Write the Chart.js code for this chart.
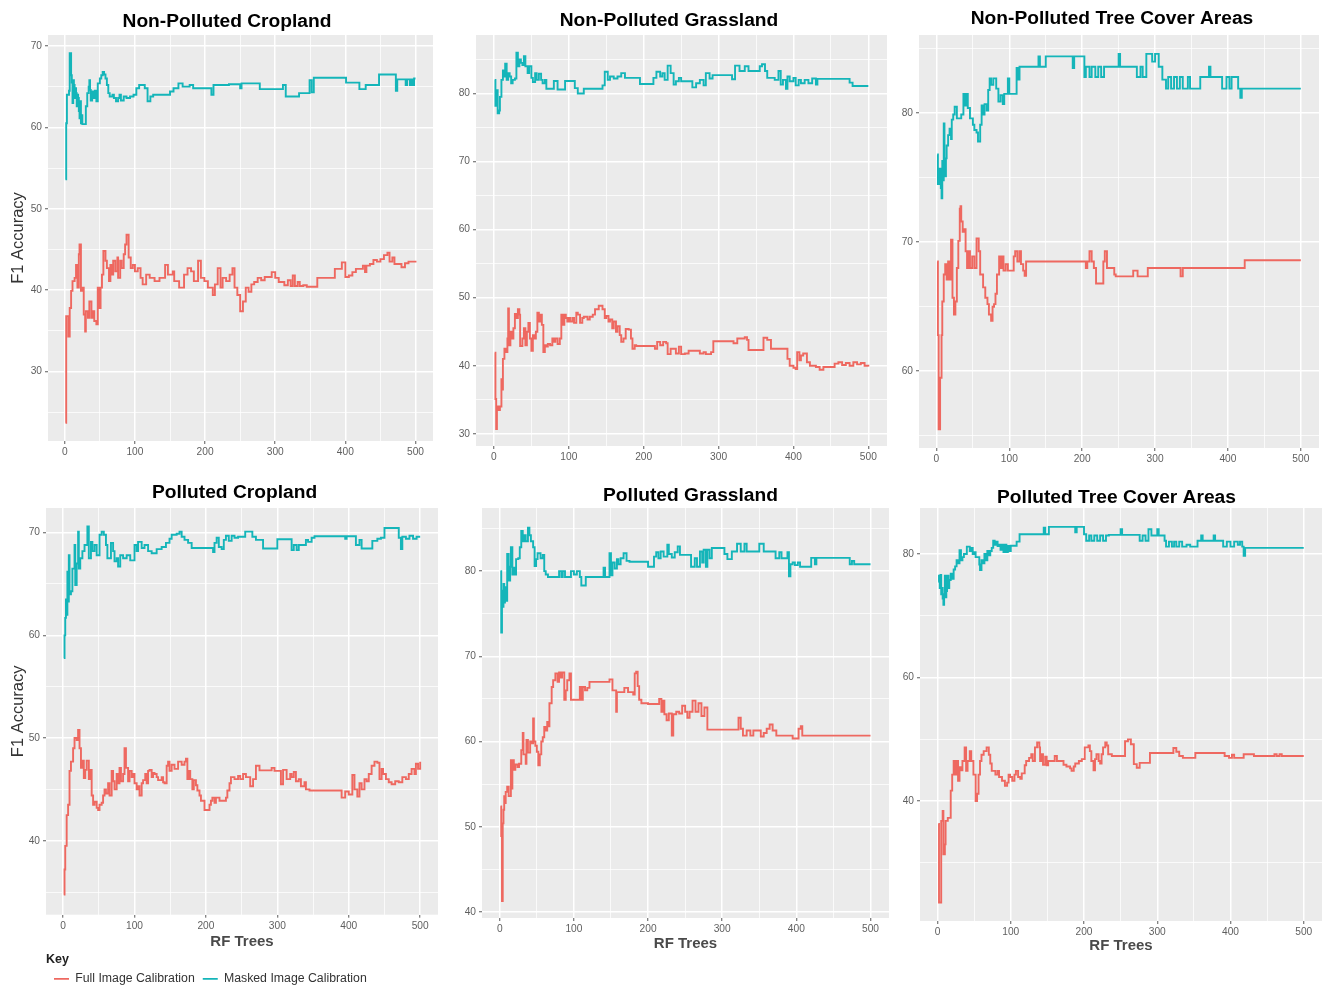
<!DOCTYPE html>
<html>
<head>
<meta charset="utf-8">
<script src="https://cdn.jsdelivr.net/npm/chart.js@4.4.1/dist/chart.umd.min.js"></script>
<style>
  html, body { margin: 0; padding: 0; background: #ffffff; width: 1322px; height: 988px; overflow: hidden; }
  canvas { position: absolute; }
</style>
</head>
<body>
<canvas id="npCrop"></canvas>
<canvas id="npGrass"></canvas>
<canvas id="npTree"></canvas>
<canvas id="pCrop"></canvas>
<canvas id="pGrass"></canvas>
<canvas id="pTree"></canvas>
<script>
// ---- F1 accuracy versus number of RF trees: [trees, F1 accuracy] ----

// Non-Polluted Cropland
const ncFull = [[1,23.7],[2,36.8],[5,34.3],[7,37.8],[9,39.9],[11,41.1],[14,41.5],[16,43.1],[18,40.3],[20,44.4],[21,45.6],[23,39.9],[25,40.3],[27,37.0],[29,34.9],[30,37.4],[33,36.6],[35,38.6],[38,36.6],[40,37.4],[42,36.2],[45,35.8],[47,40.3],[49,37.8],[51,40.3],[53,41.9],[55,44.8],[58,43.6],[60,42.7],[63,41.1],[65,43.1],[67,41.9],[69,43.6],[72,42.3],[75,44.0],[76,41.5],[79,43.6],[81,42.7],[84,44.4],[86,45.6],[88,46.8],[91,44.0],[94,42.7],[97,43.1],[100,42.3],[104,42.7],[108,41.5],[111,40.7],[116,41.9],[121,41.5],[128,41.1],[135,41.5],[143,43.1],[147,41.9],[154,42.3],[156,41.1],[163,40.3],[170,41.9],[175,42.7],[180,42.3],[184,41.1],[190,43.6],[194,41.5],[199,41.1],[204,40.3],[211,39.4],[214,40.7],[218,42.7],[222,40.3],[225,41.5],[230,41.1],[235,41.9],[239,42.7],[242,40.3],[246,39.4],[250,37.4],[254,38.6],[258,40.3],[262,39.8],[266,40.7],[270,41.0],[275,41.5],[280,41.2],[285,41.6],[295,42.2],[300,41.5],[305,41.0],[313,40.6],[318,41.2],[322,40.5],[325,41.8],[328,40.5],[332,41.0],[335,40.5],[340,40.6],[345,40.4],[360,41.5],[385,42.6],[395,43.4],[400,41.6],[405,41.8],[410,42.2],[415,42.6],[425,43.0],[428,42.2],[430,43.0],[435,43.2],[440,43.7],[445,43.5],[450,43.8],[455,44.3],[460,44.6],[463,43.5],[467,44.0],[470,43.2],[480,42.8],[485,43.3],[490,43.5],[500,43.6]];
const ncMasked = [[1,53.6],[2,60.5],[3,64.0],[6,64.5],[7,69.1],[9,66.4],[10,65.5],[11,63.0],[12,65.8],[13,65.2],[14,63.6],[15,64.8],[16,64.2],[17,62.6],[18,64.0],[19,63.6],[20,62.0],[21,61.1],[22,63.2],[23,60.5],[24,61.5],[25,60.4],[30,62.6],[32,64.2],[34,65.0],[35,65.8],[36,64.6],[37,63.3],[39,64.4],[41,63.6],[43,64.5],[45,63.2],[47,65.4],[50,66.0],[52,66.4],[54,66.8],[56,66.5],[58,66.0],[60,65.2],[62,64.2],[64,63.8],[68,64.0],[70,63.6],[73,63.2],[76,63.6],[78,64.0],[80,63.3],[84,63.8],[88,63.6],[93,63.8],[98,64.0],[102,64.8],[106,65.2],[114,64.8],[118,63.2],[122,63.8],[126,64.0],[150,64.4],[155,64.8],[162,65.4],[168,65.0],[178,65.2],[183,64.8],[209,64.0],[212,65.2],[234,65.3],[250,64.8],[252,65.4],[278,64.7],[311,65.2],[315,63.8],[334,64.2],[349,65.8],[352,64.3],[355,66.1],[401,65.5],[420,64.7],[429,65.2],[448,66.5],[472,64.5],[474,65.9],[486,65.2],[488,65.9],[492,65.2],[494,65.9],[496,65.2],[498,66.0],[500,66.0]];

// Non-Polluted Grassland
const ngFull = [[1,41.9],[2,35.1],[3,30.7],[4,34],[6,33.5],[8,34],[10,38],[11,36.5],[12,41],[14,42.5],[16,42],[18,44],[19,48.4],[20,43],[22,45],[24,44],[26,45.5],[28,47.6],[30,47],[32,48.3],[34,47.5],[35,42.9],[38,44],[40,45.5],[42,43],[44,45],[46,46.3],[48,44],[50,42.2],[52,44.5],[54,44],[56,45],[58,47.8],[60,46.5],[62,47.5],[64,46],[66,42],[68,43],[70,42.8],[72,43.2],[75,43],[78,44],[80,43.5],[82,44],[85,43.2],[88,44],[90,47.5],[92,46],[94,47.5],[96,47],[98,46.5],[100,47],[102,46.5],[105,47],[107,46.3],[110,47.8],[112,47.5],[115,46.3],[118,47],[120,47.2],[125,46.8],[128,47.2],[132,47.5],[135,48.3],[140,48.8],[145,48.3],[148,47],[150,47.3],[153,46.5],[155,46.8],[158,45.5],[160,46.5],[163,45],[165,45.8],[168,44.5],[170,43.5],[173,44],[176,45.4],[180,45.3],[183,44],[185,42.5],[188,43],[190,42.9],[215,42.5],[218,43.5],[222,43],[226,43.5],[230,43.3],[232,41.7],[236,42.5],[243,41.8],[247,42.8],[250,41.7],[255,41.8],[260,42.2],[275,41.8],[280,42],[283,41.7],[290,42],[293,43.6],[320,43.3],[325,44],[335,44.2],[338,43.8],[340,42.3],[360,44.1],[365,43.8],[370,42.5],[392,41],[395,40],[400,39.7],[403,39.5],[405,42],[408,40.8],[410,41.5],[413,41.8],[418,40.5],[422,40],[430,39.8],[435,39.4],[440,39.8],[455,40.3],[460,40.5],[465,40.1],[470,40.4],[475,40],[480,40.5],[485,40.2],[490,40.4],[495,40],[500,39.9]];
const ngMasked = [[1,82],[2,78.2],[3,80.5],[5,77.1],[7,77.5],[8,79.5],[10,82],[12,83.4],[14,82.5],[15,84.4],[17,82],[19,83],[21,82.5],[23,81.5],[25,82],[28,82.2],[30,86],[32,84],[34,85],[36,84.5],[38,84.2],[40,85.5],[42,84],[45,83],[47,84],[50,82.3],[52,81.7],[55,83],[57,82],[60,82.9],[63,82],[65,81.5],[68,82],[70,80.7],[80,81.85],[85,80.6],[95,81.85],[108,80.8],[112,80],[120,80.7],[145,81.2],[148,83.2],[152,82],[155,82.5],[160,82.2],[165,82.5],[170,83],[175,82.3],[195,81.4],[213,82.3],[217,83.2],[222,82.5],[225,83],[228,82],[232,84.1],[236,83],[240,81.3],[243,81.8],[247,82.3],[250,81.8],[265,80.9],[270,81.5],[275,82],[280,81.2],[283,83],[288,82.2],[292,82.7],[318,82.1],[322,84.1],[328,83.3],[335,84],[340,83.3],[355,84],[358,84.3],[362,83.3],[365,82.3],[375,82],[380,83.3],[383,81.3],[386,82],[390,80.7],[392,82.5],[395,81.8],[400,82.3],[403,81.2],[407,82],[410,81.5],[415,82],[420,81.5],[425,82.2],[430,81.3],[432,82.15],[475,81.6],[479,81.1],[500,81.1]];

// Non-Polluted Tree Cover Areas
const ntFull = [[1,68.5],[2,62.8],[3,55.5],[5,59.5],[7,62.8],[8,65.4],[10,67.5],[12,68.3],[14,67.1],[16,68.5],[18,67.1],[20,70.2],[22,65.7],[24,64.4],[26,65.4],[28,68],[30,70.1],[32,72.6],[33,72.8],[34,71.6],[36,70.8],[38,71],[40,69.3],[42,68],[44,69.3],[46,68],[49,68.9],[52,68],[55,70.3],[58,69.3],[60,67.5],[64,66.5],[67,65.7],[70,65.2],[72,64.4],[75,63.9],[77,65],[79,65.2],[81,66],[83,67.5],[86,68.9],[88,68],[90,68.9],[92,67.8],[95,68.3],[98,67.8],[106,68.9],[108,69.3],[111,68.5],[114,69.3],[116,68.3],[119,67.8],[121,67.4],[123,68.5],[205,68],[207,68.5],[210,69.3],[213,68.5],[216,68],[219,66.8],[229,68.5],[231,69.3],[234,68],[244,67.5],[246,67.35],[270,67.8],[276,67.35],[290,68],[335,67.35],[338,68],[423,68.6],[500,68.6]];
const ntMasked = [[1,76.8],[2,74.5],[4,75.7],[6,74.2],[7,73.4],[8,76.3],[9,74.8],[10,79.2],[11,75.1],[13,76.5],[14,77.5],[16,78.3],[18,78.8],[20,78],[21,79.5],[23,79.9],[25,80.5],[28,79.6],[34,79.9],[37,81.5],[39,80.6],[41,81.5],[43,80.4],[46,79.6],[50,79.1],[52,78.7],[55,78.5],[57,77.8],[60,79.1],[62,80.6],[64,79.9],[66,80.7],[69,80.2],[71,81.8],[73,82.7],[75,82.2],[78,82.7],[82,81.9],[85,80.9],[88,81.4],[91,80.7],[93,81.5],[98,82.7],[100,81.5],[110,83.5],[112,82.6],[114,83.6],[140,84.4],[142,83.6],[150,84.4],[187,83.5],[189,84.4],[203,82.8],[205,83.6],[210,82.8],[213,83.6],[218,82.8],[222,83.6],[226,82.8],[230,83.6],[250,84.6],[252,83.6],[275,82.8],[280,83.6],[283,82.8],[288,84.6],[296,84],[300,84.6],[305,83.6],[310,82.6],[315,81.9],[318,82.8],[322,81.9],[326,82.8],[330,81.9],[334,82.8],[338,81.9],[345,82.8],[348,81.9],[362,82.8],[374,83.6],[376,82.8],[392,81.9],[398,82.8],[402,81.9],[405,82.8],[414,81.9],[417,81.2],[419,81.9],[500,81.9]];

// Polluted Cropland
const pcFull = [[1,34.75],[2,37.2],[3,39.5],[5,42.5],[7,43.5],[9,46.8],[11,47.7],[14,49],[16,50],[19,49.8],[21,50.8],[23,49],[25,47.1],[27,47.8],[29,46.1],[31,46.9],[33,47.8],[36,46],[38,46.9],[40,44.4],[42,43.5],[44,43.8],[47,43.2],[49,43],[51,43.5],[54,43.7],[56,44.4],[58,45],[60,44.6],[63,45.6],[65,44.4],[68,46.8],[70,45.8],[72,45],[75,46.5],[77,45.6],[79,47.1],[81,45.8],[84,46.5],[86,49],[88,47.1],[91,45.8],[93,46.8],[96,46.2],[98,46.5],[100,45.6],[103,45],[105,45.3],[107,44.4],[110,45.6],[112,45.9],[115,46.5],[117,45.6],[119,46.8],[121,46.9],[124,46.2],[126,46.6],[128,46.5],[131,46.2],[133,45.9],[138,46.2],[140,45.7],[142,45.6],[145,47.3],[147,47.7],[149,46.8],[152,47.4],[156,47],[161,47.7],[166,47.4],[170,47.7],[172,48],[174,46],[176,46.8],[178,46],[181,45],[183,45.9],[186,45.4],[188,44.9],[191,44.4],[193,43.9],[198,43],[205,43.5],[207,43.9],[209,44.2],[212,43.7],[214,44.2],[219,43.9],[228,44.2],[230,44.9],[233,45.6],[235,46.2],[240,46],[245,46.3],[248,46],[252,46.5],[256,46.2],[262,45.3],[266,46],[270,47.3],[275,46.85],[292,47.1],[296,46.8],[305,45.5],[308,46.9],[313,46],[318,46.5],[320,46.2],[323,46.7],[326,45.8],[330,46],[333,45.3],[338,45.7],[340,45],[345,44.9],[390,44.2],[395,44.8],[400,44.5],[405,46.4],[408,45],[412,44.3],[415,45.6],[418,45],[422,46],[425,45.8],[428,46.5],[432,47.3],[436,47.7],[440,47.6],[443,46],[446,47],[448,46.5],[452,46],[456,45.7],[460,45.5],[465,45.8],[470,45.7],[475,46.2],[480,46],[484,46.5],[488,47],[492,46.5],[494,47.5],[497,47],[500,47.7]];
const pcMasked = [[1,57.8],[2,60],[3,61.7],[4,63.5],[5,62],[6,66.2],[7,63.3],[8,67.8],[9,64],[11,64.3],[13,66.5],[16,68.8],[17,64.9],[19,67],[21,70.1],[22,66.5],[24,67.5],[27,68.2],[30,68.8],[34,70.6],[36,67.5],[39,69.1],[41,68.2],[44,68.8],[47,67.8],[51,69.8],[54,70.1],[57,69.8],[60,68.8],[62,67.5],[67,69],[70,68.2],[72,67.2],[75,67.5],[77,66.7],[80,67.8],[84,67.5],[89,67.8],[94,67.3],[100,68.8],[103,68.2],[105,69.1],[110,68.5],[114,68.8],[119,68.2],[124,68],[131,68.4],[138,68.6],[144,69],[149,69.4],[152,69.8],[159,69.9],[163,70.1],[166,69.6],[170,69.3],[175,69],[180,68.5],[210,68.1],[212,69],[215,69.5],[218,68.6],[222,68.4],[225,69.3],[228,69.7],[232,69.2],[236,69.7],[240,69.5],[245,69.6],[255,70.1],[265,69.6],[270,69.3],[280,68.45],[300,69.35],[320,68.3],[323,68.8],[327,68.3],[330,68.8],[340,69.3],[343,69.1],[348,69.5],[352,69.65],[395,69.4],[397,69.65],[410,68.8],[415,69.3],[418,68.45],[433,69.2],[440,69.4],[445,69.5],[450,70.45],[470,69.5],[473,68.4],[475,69.6],[480,69.4],[485,69.7],[490,69.4],[495,69.6],[500,69.6]];

// Polluted Grassland
const pgFull = [[1,52.4],[2,48.9],[3,41.3],[4,50.4],[5,52],[6,53.6],[7,52.8],[8,54.1],[10,54.7],[12,53.6],[15,57.8],[16,54.5],[17,57.8],[19,56.7],[21,57.3],[24,57],[26,57.4],[29,59],[31,61],[32,58.5],[35,57.4],[36,60.2],[38,58.7],[41,60],[43,59.8],[45,62.7],[46,60],[48,59.5],[50,58.8],[52,57.2],[54,58.5],[56,60],[58,60.5],[60,61.7],[62,61.3],[64,62.3],[66,61.8],[67,64.5],[70,66.4],[72,67.2],[75,68],[78,67],[80,68.1],[82,67.5],[84,68.1],[87,64.9],[89,66],[91,67.2],[94,68],[96,64.9],[105,64.9],[108,66.4],[110,64.9],[112,66.4],[115,66],[118,66.3],[121,67],[148,67.3],[152,66],[157,63.5],[158,65.8],[168,66.3],[173,65.8],[180,65.5],[182,68],[184,68.2],[186,66.5],[188,64.9],[191,64.5],[200,64.4],[215,65],[218,63.5],[220,64.8],[222,63.2],[225,62.5],[228,63.3],[232,60.7],[234,63.2],[238,63.5],[242,63.3],[246,64.2],[250,63.5],[253,62.8],[256,63.5],[260,64.8],[264,63.5],[268,64.5],[272,63],[276,64],[280,61.4],[322,62.8],[325,61.5],[328,60.7],[333,61.3],[338,60.7],[342,61.3],[352,60.6],[356,61],[360,61.5],[364,62],[368,61.3],[373,60.7],[395,60.35],[403,61.5],[406,61.8],[408,60.7],[500,60.7]];
const pgMasked = [[1,80],[2,72.8],[3,77.7],[4,75.8],[5,78.5],[6,76.3],[7,78.1],[8,76.5],[10,82],[12,78.9],[14,80.5],[15,82.8],[17,79.6],[19,80.4],[20,79.6],[22,81.4],[25,81.5],[27,82.8],[29,84.7],[31,83.5],[33,84.2],[35,83.5],[38,85.1],[40,84.2],[42,83.5],[45,82.8],[47,80.6],[49,81.4],[51,82.1],[55,81.5],[58,81.9],[60,80],[62,79.6],[65,79.3],[80,80],[83,79.3],[85,80],[88,79.3],[96,80],[100,79.6],[104,80],[108,79.3],[110,78.3],[116,79.3],[140,80.4],[142,79.3],[148,82.1],[150,79.5],[152,81],[155,80.3],[158,81.4],[160,80.8],[163,81.5],[167,82.1],[171,81.2],[175,81.1],[200,80.5],[208,81.7],[211,82.2],[214,81.5],[217,82.3],[221,81.7],[226,83.1],[228,82],[232,81.6],[236,82.2],[240,82.9],[243,81.9],[258,80.5],[263,81.5],[266,80.5],[270,82.3],[273,81],[275,82.5],[278,80.5],[280,82.5],[283,81.5],[286,82.7],[303,82],[307,81.4],[313,82.3],[320,83.2],[325,82.3],[330,83.2],[333,82.3],[350,83.2],[356,82.3],[372,81.5],[377,82.2],[380,81.5],[388,82.2],[390,79.4],[392,80.8],[395,81],[398,80.7],[402,81],[405,80.5],[420,81.55],[425,80.8],[427,81.55],[472,80.8],[475,81.2],[478,80.8],[500,80.8]];

// Polluted Tree Cover Areas
const ptFull = [[1,36.3],[2,23.6],[4,23.6],[5,36.8],[7,38.4],[8,31.4],[10,33],[11,36.8],[14,37.3],[18,41.7],[20,44.3],[22,46.5],[24,44.3],[26,46.5],[28,43.3],[30,45.5],[32,45],[34,46.5],[37,48.7],[39,44.9],[41,46.5],[44,48.1],[46,46.5],[49,44.3],[52,40],[54,41.2],[56,44.3],[58,46.5],[60,47.5],[63,48.1],[67,48.7],[70,47.5],[72,46.1],[74,44.9],[79,44.3],[82,44.9],[84,43.9],[88,43.3],[92,42.5],[95,43],[97,44.3],[99,43.9],[102,43.3],[105,44.3],[107,44.9],[110,43.9],[113,43.6],[115,44.5],[119,45.8],[121,46.5],[125,47],[128,47.6],[130,46.5],[133,48.7],[136,49.5],[139,48.7],[140,46.5],[142,47.6],[144,45.9],[147,47.2],[149,45.8],[151,46.5],[160,47.3],[163,46.5],[172,45.9],[176,45.6],[181,45.3],[183,44.9],[186,45.6],[188,46.1],[193,46.5],[197,46.8],[201,48.7],[206,49],[208,48.1],[210,46.5],[213,45],[215,46.8],[217,47.6],[220,46.5],[222,46.1],[224,47.6],[226,48.7],[229,49.5],[231,49],[233,47.6],[238,47.3],[256,49.7],[260,50],[264,49.2],[268,46],[272,45.4],[276,46.2],[290,47.8],[322,48.6],[326,48],[330,47.3],[335,47],[352,47.8],[392,47.3],[398,47],[402,47.5],[405,47],[418,47.6],[432,47.3],[460,47.6],[463,47.3],[467,47.6],[470,47.3],[500,47.3]];
const ptMasked = [[1,75.5],[2,76.5],[3,74.5],[4,76.6],[5,73.5],[6,74.5],[7,72.8],[8,71.8],[9,73.5],[10,76.5],[11,73],[12,74],[13,76.5],[15,74.5],[16,75.8],[18,76.8],[20,76],[22,77.5],[24,78],[26,79],[28,78.5],[30,80.6],[32,79],[34,79.5],[36,80],[40,81.2],[44,80.5],[46,81],[48,80],[50,80.3],[52,79.5],[57,78.3],[58,77.4],[60,79],[62,78.5],[64,80],[66,79],[68,80.5],[70,79.8],[72,80.5],[74,81],[76,82.15],[78,81.5],[80,82],[82,81.3],[84,81.5],[86,80.7],[88,81.5],[90,80.3],[92,81.5],[94,80.3],[96,81.3],[98,80.5],[100,81.35],[108,82],[112,83.2],[145,84.25],[147,83.2],[152,84.4],[188,83.5],[190,84.4],[200,83.2],[203,82.15],[207,83],[210,82.15],[214,83],[218,82.15],[222,83],[226,82.15],[230,83],[234,83.1],[250,84],[252,83.1],[276,82.15],[280,83],[284,82.15],[288,84],[292,83],[300,84],[302,83],[310,82.15],[312,81.2],[316,82],[320,81.2],[323,82],[326,81.2],[330,82],[334,81.2],[340,81.5],[345,81.2],[355,82.15],[360,83],[362,82.15],[377,83],[379,82.15],[390,81.2],[395,82],[400,81.2],[405,82],[410,81.5],[413,82],[416,81.2],[418,79.7],[420,81],[500,81]];

// ---- Axis ticks ----
const xMajorTicks = [0, 100, 200, 300, 400, 500];
const xMinorTicks = [50, 150, 250, 350, 450];
const ncYMajor = [30, 40, 50, 60, 70], ncYMinor = [25, 35, 45, 55, 65];
const ngYMajor = [30, 40, 50, 60, 70, 80], ngYMinor = [35, 45, 55, 65, 75, 85];
const ntYMajor = [60, 70, 80], ntYMinor = [55, 65, 75, 85];
const pcYMajor = [40, 50, 60, 70], pcYMinor = [35, 45, 55, 65];
const pgYMajor = [40, 50, 60, 70, 80], pgYMinor = [45, 55, 65, 75, 85];
const ptYMajor = [40, 60, 80], ptYMinor = [30, 50, 70];

const seriesNames = ['Full Image Calibration', 'Masked Image Calibration'];

// ---- Styling ----
const FULL_COLOR = '#EE6860';
const MASK_COLOR = '#14B5B9';
const FONT = "'Liberation Sans', Arial, Helvetica, sans-serif";
Chart.defaults.font.family = FONT;
Chart.defaults.color = '#5f5f5f';

// Panel layout: canvas position, y-axis width, extra right gutter, title band, x-axis band
const panels = [
  { id: 'npCrop',  title: 'Non-Polluted Cropland',         full: ncFull, masked: ncMasked, yMin: 21.45, yMax: 71.35, yMajor: ncYMajor, yMinor: ncYMinor,
    left: 0,   top: 10,  yw: 48, w: 385, rw: 21, th: 25, h: 406, xh: 20, yTitle: true,  xTitle: false },
  { id: 'npGrass', title: 'Non-Polluted Grassland',        full: ngFull, masked: ngMasked, yMin: 28.2,  yMax: 88.6,  yMajor: ngYMajor, yMinor: ngYMinor,
    left: 446, top: 9,   yw: 30, w: 411, rw: 5,  th: 26, h: 411, xh: 20, yTitle: false, xTitle: false },
  { id: 'npTree',  title: 'Non-Polluted Tree Cover Areas', full: ntFull, masked: ntMasked, yMin: 54.05, yMax: 86.06, yMajor: ntYMajor, yMinor: ntYMinor,
    left: 889, top: 7,   yw: 30, w: 400, rw: 16, th: 28, h: 413, xh: 20, yTitle: false, xTitle: false },
  { id: 'pCrop',   title: 'Polluted Cropland',             full: pcFull, masked: pcMasked, yMin: 32.8,  yMax: 72.4,  yMajor: pcYMajor, yMinor: pcYMinor,
    left: 0,   top: 481, yw: 46, w: 392, rw: 31, th: 27, h: 407, xh: 39, xtPad: 3, yTitle: true,  xTitle: true, legend: true, legendH: 41.3 },
  { id: 'pGrass',  title: 'Polluted Grassland',            full: pgFull, masked: pgMasked, yMin: 39.3,  yMax: 87.4,  yMajor: pgYMajor, yMinor: pgYMinor,
    left: 452, top: 484, yw: 30, w: 407, rw: 40, th: 24, h: 410, xh: 40, xtPad: 5, yTitle: false, xTitle: true },
  { id: 'pTree',   title: 'Polluted Tree Cover Areas',     full: ptFull, masked: ptMasked, yMin: 20.6,  yMax: 87.45, yMajor: ptYMajor, yMinor: ptYMinor,
    left: 890, top: 486, yw: 30, w: 402, rw: 21, th: 22, h: 413, xh: 40, xtPad: 6, yTitle: false, xTitle: true }
];

const TITLE_SIZE = 19.2;

// grey panel background behind the grid
const panelBackground = {
  id: 'panelBackground',
  beforeDraw(chart) {
    const a = chart.chartArea;
    const ctx = chart.ctx;
    ctx.save();
    ctx.fillStyle = '#EBEBEB';
    ctx.fillRect(a.left, a.top, a.right - a.left, a.bottom - a.top);
    ctx.restore();
  }
};

const toPoints = pairs => pairs.map(p => ({ x: p[0], y: p[1] }));
const tickList = (major, minor) => major.concat(minor).sort((a, b) => a - b).map(v => ({ value: v }));
const isIn = (arr, c) => !!(c.tick && arr.includes(c.tick.value));

function gridFor(major) {
  return {
    color: '#FFFFFF',
    lineWidth: c => isIn(major, c) ? 1.5 : 0.75,
    drawTicks: true,
    tickLength: 3,
    tickWidth: 1,
    tickColor: c => isIn(major, c) ? '#5a5a5a' : 'rgba(0,0,0,0)'
  };
}

panels.forEach(p => {
  const cv = document.getElementById(p.id);
  const W = p.yw + p.w + p.rw;
  const H = Math.round(p.th + p.h + p.xh + (p.legendH || 0));
  cv.width = W; cv.height = H;
  cv.style.left = p.left + 'px'; cv.style.top = p.top + 'px';
  cv.style.width = W + 'px'; cv.style.height = H + 'px';

  const line = (label, pairs, color) => ({
    label, data: toPoints(pairs), borderColor: color, backgroundColor: color,
    borderWidth: 1.9, pointRadius: 0, pointHoverRadius: 0, stepped: true, fill: false, tension: 0
  });

  new Chart(cv, {
    type: 'line',
    data: { datasets: [line(seriesNames[0], p.full, FULL_COLOR), line(seriesNames[1], p.masked, MASK_COLOR)] },
    options: {
      responsive: false,
      animation: false,
      devicePixelRatio: 1,
      events: [],
      layout: { padding: 0 },
      plugins: {
        title: {
          display: true, text: p.title, color: '#000000',
          font: { size: TITLE_SIZE, weight: 'bold', lineHeight: 1 },
          padding: { top: 2, bottom: p.th - 2 - TITLE_SIZE }
        },
        legend: p.legend ? {
          display: true, position: 'bottom', align: 'start', fullSize: false,
          title: { display: true, text: 'Key', position: 'start', color: '#222222',
                   font: { size: 12.5, weight: 'bold', lineHeight: 1.2 }, padding: { top: 0, bottom: -4 } },
          labels: { usePointStyle: true, pointStyle: 'line', pointStyleWidth: 15, boxHeight: 12,
                    padding: 8, color: '#333333', font: { size: 12.3 } }
        } : { display: false },
        tooltip: { enabled: false }
      },
      scales: {
        x: {
          type: 'linear', position: 'bottom', min: -23.95, max: 524.95,
          afterBuildTicks: s => { s.ticks = tickList(xMajorTicks, xMinorTicks); },
          afterFit: s => { s.height = p.xh; },
          grid: gridFor(xMajorTicks),
          border: { display: false },
          ticks: { autoSkip: false, maxRotation: 0, padding: 2, color: '#5f5f5f', font: { size: 10.2 },
                   callback: v => xMajorTicks.includes(v) ? String(v) : '' },
          title: { display: p.xTitle, text: 'RF Trees', color: '#4a4a4a',
                   font: { size: 15, weight: 'bold', lineHeight: 1.2 }, padding: { top: 0, bottom: p.xtPad || 0 } }
        },
        y: {
          type: 'linear', position: 'left', min: p.yMin, max: p.yMax,
          afterBuildTicks: s => { s.ticks = tickList(p.yMajor, p.yMinor); },
          afterFit: s => { s.width = p.yw; },
          grid: gridFor(p.yMajor),
          border: { display: false },
          ticks: { autoSkip: false, padding: 3, color: '#5f5f5f', font: { size: 10.2 },
                   callback: v => p.yMajor.includes(v) ? String(v) : '' },
          title: { display: p.yTitle, text: 'F1 Accuracy', color: '#333333',
                   font: { size: 16.5, lineHeight: 1.2 }, padding: { top: 9, bottom: 0 } }
        },
        gutter: {
          axis: 'y', type: 'linear', position: 'right', display: true,
          grid: { display: false }, border: { display: false }, ticks: { display: false },
          afterFit: s => { s.width = p.rw; }
        }
      }
    },
    plugins: [panelBackground]
  });
});
</script>
</body>
</html>
